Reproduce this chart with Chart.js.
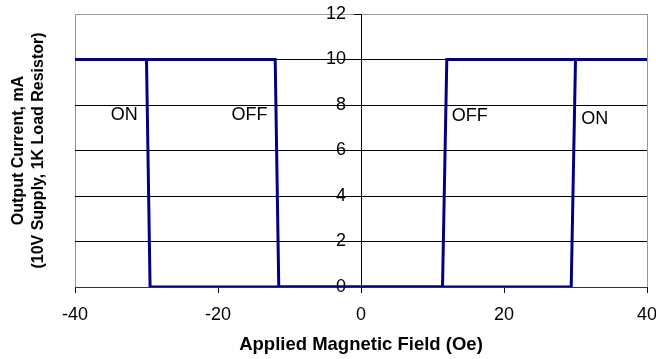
<!DOCTYPE html>
<html>
<head>
<meta charset="utf-8">
<script src="https://cdn.jsdelivr.net/npm/chart.js@4.4.1/dist/chart.umd.min.js"></script>
<style>
  html, body { margin: 0; padding: 0; background: #fff; }
  #wrap { width: 656px; height: 359px; }
</style>
</head>
<body>
<div id="wrap"><canvas id="switchChart"></canvas></div>
<script>
// field sweeping upward (-40 -> 40 Oe)
const sweepUpField = [-40, -12, -11.5, 29.4, 30, 40];
const sweepUpCurrent = [10, 10, 0, 0, 10, 10];
// field sweeping downward (40 -> -40 Oe)
const sweepDownField = [40, 12, 11.4, -29.5, -30, -40];
const sweepDownCurrent = [10, 10, 0, 0, 10, 10];

const xTicks = [-40, -20, 0, 20, 40];
const yTicks = [0, 2, 4, 6, 8, 10, 12];

// switching point annotations
const noteText = ["ON", "OFF", "OFF", "ON"];
const noteField = [-33.1, -15.6, 15.2, 32.7];
const noteCurrent = [7.55, 7.55, 7.5, 7.4];

const lineColor = "#000080";
const fontFamily = "'Liberation Sans', Arial, sans-serif";

function toPoints(xs, ys) {
  return xs.map((x, i) => ({ x: x, y: ys[i] }));
}

const noteLabels = {
  id: "noteLabels",
  afterDatasetsDraw(chart) {
    const { ctx, scales } = chart;
    ctx.save();
    ctx.font = "18px " + fontFamily;
    ctx.fillStyle = "#000";
    ctx.textAlign = "center";
    ctx.textBaseline = "middle";
    noteText.forEach((t, i) => {
      ctx.fillText(t, scales.x.getPixelForValue(noteField[i]), scales.y.getPixelForValue(noteCurrent[i]));
    });
    ctx.restore();
  }
};

const ctx = document.getElementById("switchChart").getContext("2d");

new Chart(ctx, {
  type: "line",
  data: {
    datasets: [
      {
        label: "sweep up",
        data: toPoints(sweepUpField, sweepUpCurrent),
        borderColor: lineColor,
        borderWidth: 3,
        pointRadius: 0,
        tension: 0,
        fill: false
      },
      {
        label: "sweep down",
        data: toPoints(sweepDownField, sweepDownCurrent),
        borderColor: lineColor,
        borderWidth: 3,
        pointRadius: 0,
        tension: 0,
        fill: false
      }
    ]
  },
  options: {
    responsive: true,
    maintainAspectRatio: false,
    animation: false,
    layout: { padding: { top: 14, right: 9, left: 0, bottom: 0 } },
    plugins: {
      legend: { display: false },
      tooltip: { enabled: false }
    },
    scales: {
      x: {
        type: "linear",
        position: "bottom",
        min: -40,
        max: 40,
        afterBuildTicks: (s) => { s.ticks = xTicks.map(v => ({ value: v })); },
        afterFit: (s) => { s.height = 72; s.paddingLeft = 0; s.paddingRight = 0; },
        grid: {
          color: (c) => (c.tick && Math.abs(c.tick.value) === 40 ? "#999" : "rgba(0,0,0,0)"),
          tickColor: "#000",
          tickLength: 6,
          drawOnChartArea: true
        },
        border: { display: true, color: "#333", width: 1 },
        ticks: {
          font: { family: fontFamily, size: 18 },
          color: "#000",
          padding: 11,
          maxRotation: 0
        },
        title: {
          display: true,
          text: "Applied Magnetic Field (Oe)",
          font: { family: fontFamily, size: 18.5, weight: "bold" },
          color: "#000",
          padding: { top: 4, bottom: 3 }
        }
      },
      y: {
        type: "linear",
        position: { x: 0 },
        min: 0,
        max: 12,
        afterBuildTicks: (s) => { s.ticks = yTicks.map(v => ({ value: v })); },
        afterFit: (s) => { s.paddingTop = 0; s.paddingBottom = 0; },
        grid: {
          color: (c) => {
            if (!c.tick) return "#000";
            if (c.tick.value === 12) return "#999";
            if (c.tick.value === 0) return "rgba(0,0,0,0)";
            return "#000";
          },
          tickColor: "#000",
          tickLength: 7
        },
        border: { display: true, color: "#000", width: 1 },
        ticks: {
          font: { family: fontFamily, size: 18 },
          color: "#000",
          // labels on a centred axis sit flush against it, so pad them out
          callback: (v) => v + "\u00a0\u00a0\u00a0"
        }
      },
      yTitle: {
        type: "linear",
        position: "left",
        min: 0,
        max: 12,
        afterFit: (s) => { s.width = 75; s.paddingTop = 0; s.paddingBottom = 0; },
        grid: { display: false },
        border: { display: false },
        ticks: { display: false },
        title: {
          display: true,
          text: ["Output Current, mA", "(10V Supply, 1K Load Resistor)"],
          font: { family: fontFamily, size: 16, weight: "bold", lineHeight: 1.25 },
          color: "#000",
          padding: { top: 9, bottom: 0 }
        }
      }
    }
  },
  plugins: [noteLabels]
});
</script>
</body>
</html>
